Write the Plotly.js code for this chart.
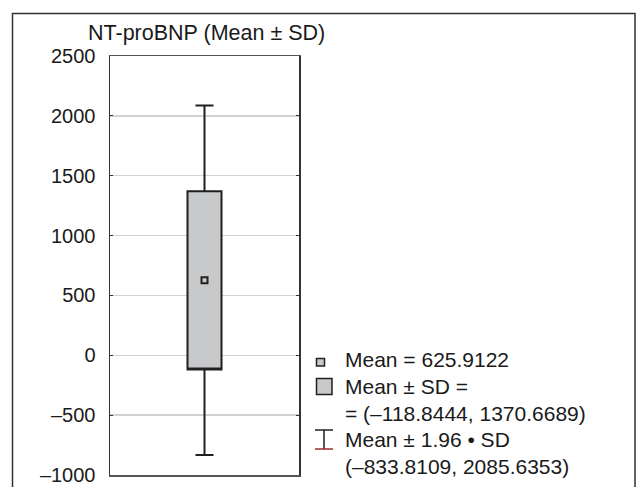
<!DOCTYPE html>
<html>
<head>
<meta charset="utf-8">
<script src="https://cdn.plot.ly/plotly-3.0.1.min.js"></script>
<style>
  html, body { margin: 0; padding: 0; background: #ffffff; }
  #chart { width: 640px; height: 487px; }
</style>
</head>
<body>
<div id="chart"></div>
<script>
// ---- data ----
const categories = ['NT-proBNP'];
const meanValues = [625.9122];
const sdLower = [-118.8444];
const sdUpper = [1370.6689];
const ciLower = [-833.8109];
const ciUpper = [2085.6353];
const yTickValues = [-1000, -500, 0, 500, 1000, 1500, 2000, 2500];
const yTickLabels = ['–1000', '–500', '0', '500', '1000', '1500', '2000', '2500'];
const chartTitle = 'NT-proBNP (Mean ± SD)';

// ---- layout helpers (pixel -> paper) ----
const L = 110, R = 299, T = 56, B = 475, W = 640, H = 487;
const xp = px => (px - L) / (R - L);
const yp = py => (B - py) / (B - T);

const fmt = v => (v < 0 ? '–' : '') + Math.abs(v).toFixed(4);

const dark = '#231f20';
const boxFill = '#c8c9cb';
const FONT = 'Liberation Sans, Arial, Helvetica, sans-serif';

const traces = [
  {
    type: 'box',
    x: categories,
    q1: sdLower,
    median: sdLower,
    q3: sdUpper,
    lowerfence: ciLower,
    upperfence: ciUpper,
    boxpoints: false,
    width: 0.18,
    whiskerwidth: 0.53,
    fillcolor: boxFill,
    line: { color: dark, width: 2 },
    hoverinfo: 'skip',
    showlegend: false
  },
  {
    type: 'scatter',
    mode: 'markers',
    x: categories,
    y: meanValues,
    marker: { symbol: 'square', size: 6, color: boxFill, line: { color: dark, width: 2 } },
    hoverinfo: 'skip',
    showlegend: false
  }
];

const legendLines = [
  { text: 'Mean = ' + fmt(meanValues[0]), y: 359.7 },
  { text: 'Mean ± SD =', y: 386.3 },
  { text: '= (' + fmt(sdLower[0]) + ', ' + fmt(sdUpper[0]) + ')', y: 413 },
  { text: 'Mean ± 1.96 • SD', y: 439.5 },
  { text: '(' + fmt(ciLower[0]) + ', ' + fmt(ciUpper[0]) + ')', y: 466 }
];

const annotations = legendLines.map(l => ({
  xref: 'paper', yref: 'paper',
  x: xp(343), y: yp(l.y),
  xanchor: 'left', yanchor: 'middle',
  text: l.text, showarrow: false,
  font: { family: FONT, size: 21, color: '#1a1a1a' }
}));
annotations.push({
  xref: 'paper', yref: 'paper',
  x: xp(86), y: yp(33),
  xanchor: 'left', yanchor: 'middle',
  text: chartTitle, showarrow: false,
  font: { family: FONT, size: 21.5, color: '#1a1a1a' }
});

const shapes = [
  // outer frame (bottom edge lies off-canvas, as in the reference)
  { type: 'rect', xref: 'paper', yref: 'paper', x0: xp(12.5), x1: xp(635), y0: yp(520), y1: yp(13.5),
    line: { color: '#333333', width: 1.5 }, fillcolor: 'rgba(0,0,0,0)', layer: 'below' },
  // legend icon: mean
  { type: 'rect', xref: 'paper', yref: 'paper', x0: xp(316.5), x1: xp(324.5), y0: yp(366), y1: yp(358.5),
    line: { color: dark, width: 1.5 }, fillcolor: boxFill },
  // legend icon: mean ± SD box
  { type: 'rect', xref: 'paper', yref: 'paper', x0: xp(316.5), x1: xp(332), y0: yp(394.5), y1: yp(378.5),
    line: { color: dark, width: 1.5 }, fillcolor: boxFill },
  // legend icon: whisker
  { type: 'line', xref: 'paper', yref: 'paper', x0: xp(315), x1: xp(333), y0: yp(430), y1: yp(430),
    line: { color: dark, width: 1.5 } },
  { type: 'line', xref: 'paper', yref: 'paper', x0: xp(324), x1: xp(324), y0: yp(430), y1: yp(449),
    line: { color: dark, width: 1.5 } },
  { type: 'line', xref: 'paper', yref: 'paper', x0: xp(315), x1: xp(333), y0: yp(449), y1: yp(449),
    line: { color: '#9e2a2b', width: 1.5 } }
];

const layout = {
  width: W, height: H,
  margin: { l: L, r: W - R, t: T, b: H - B, pad: 0 },
  paper_bgcolor: '#ffffff',
  plot_bgcolor: '#ffffff',
  showlegend: false,
  font: { family: FONT, size: 20, color: '#1a1a1a' },
  xaxis: {
    type: 'category',
    range: [-0.5, 0.5],
    showticklabels: false,
    ticks: '',
    showgrid: false,
    zeroline: false,
    showline: true,
    linecolor: '#555555',
    linewidth: 1.5,
    mirror: true,
    fixedrange: true
  },
  yaxis: {
    range: [-1000, 2500],
    tickmode: 'array',
    tickvals: yTickValues,
    ticktext: yTickLabels,
    tickfont: { family: FONT, size: 20, color: '#1a1a1a' },
    ticks: 'inside',
    ticklen: 3,
    tickwidth: 1,
    tickcolor: '#333333',
    ticklabelstandoff: 9,
    showgrid: true,
    gridcolor: '#d2d2d2',
    gridwidth: 1.5,
    zeroline: false,
    showline: true,
    linecolor: '#333333',
    linewidth: 1.5,
    mirror: 'ticks',
    fixedrange: true
  },
  annotations: annotations,
  shapes: shapes
};

Plotly.newPlot('chart', traces, layout, { displayModeBar: false, staticPlot: true });
</script>
</body>
</html>
